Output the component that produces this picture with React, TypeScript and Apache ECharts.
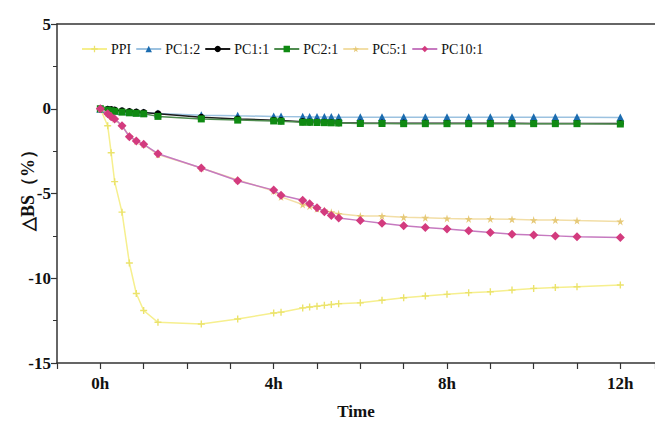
import React, { useEffect, useRef } from "react";
import * as echarts from "echarts";

const times = [0, 0.17, 0.25, 0.33, 0.5, 0.67, 0.83, 1, 1.33, 2.33, 3.17, 4, 4.17, 4.67, 4.83, 5, 5.17, 5.33, 5.5, 6, 6.5, 7, 7.5, 8, 8.5, 9, 9.5, 10, 10.5, 11, 12];
const seriesNames = ["PPI", "PC1:2", "PC1:1", "PC2:1", "PC5:1", "PC10:1"];
const ppi = [0, -1.0, -2.6, -4.3, -6.1, -9.1, -10.9, -11.9, -12.6, -12.7, -12.4, -12.05, -12.0, -11.75, -11.7, -11.65, -11.6, -11.55, -11.5, -11.45, -11.3, -11.15, -11.05, -10.95, -10.85, -10.8, -10.7, -10.6, -10.55, -10.5, -10.4];
const pc12 = [0, -0.05, -0.07, -0.1, -0.14, -0.17, -0.2, -0.22, -0.28, -0.38, -0.42, -0.45, -0.46, -0.47, -0.48, -0.48, -0.49, -0.49, -0.5, -0.5, -0.5, -0.5, -0.5, -0.5, -0.5, -0.5, -0.5, -0.5, -0.5, -0.5, -0.52];
const pc11 = [0, -0.03, -0.05, -0.08, -0.12, -0.16, -0.19, -0.22, -0.3, -0.5, -0.6, -0.68, -0.7, -0.76, -0.78, -0.79, -0.8, -0.81, -0.82, -0.84, -0.85, -0.85, -0.85, -0.86, -0.86, -0.86, -0.86, -0.87, -0.87, -0.87, -0.87];
const pc21 = [0, -0.08, -0.12, -0.15, -0.2, -0.24, -0.27, -0.3, -0.45, -0.6, -0.67, -0.72, -0.74, -0.8, -0.8, -0.81, -0.82, -0.83, -0.84, -0.87, -0.87, -0.88, -0.88, -0.88, -0.88, -0.88, -0.88, -0.88, -0.88, -0.88, -0.9];
const pc51 = [0, -0.28, -0.45, -0.6, -1.0, -1.6, -1.9, -2.1, -2.7, -3.5, -4.2, -4.85, -5.2, -5.65, -5.75, -5.9, -6.0, -6.1, -6.2, -6.33, -6.33, -6.4, -6.43, -6.47, -6.5, -6.5, -6.52, -6.57, -6.57, -6.6, -6.65];
const pc101 = [0, -0.3, -0.47, -0.6, -1.0, -1.65, -1.9, -2.1, -2.65, -3.5, -4.25, -4.8, -5.1, -5.4, -5.6, -5.84, -6.07, -6.3, -6.45, -6.6, -6.75, -6.9, -7.0, -7.1, -7.2, -7.3, -7.4, -7.45, -7.5, -7.55, -7.6];
const xTickLabels = ["0h", "4h", "8h", "12h"];
const yTickLabels = ["-15", "-10", "-5", "0", "5"];
const yAxisTitle = "△BS（%）";

const FONT = "'Liberation Serif', 'Times New Roman', serif";

export default function App() {
  const ref = useRef<HTMLDivElement>(null);
  useEffect(() => {
    document.body.style.margin = "0";
    if (!ref.current) return;
    const chart = echarts.init(ref.current, null, { renderer: "svg" });
    const allValues = [ppi, pc12, pc11, pc21, pc51, pc101];
    const styles = [
      { line: "#f6ef8e", mark: "#ebe36c", symbol: "path://M4,0h2v10h-2zM0,4h10v2h-10z", size: 7 },
      { line: "#9cc2e0", mark: "#1b6cb0", symbol: "triangle", size: 8 },
      { line: "#1a1a1a", mark: "#000000", symbol: "circle", size: 7 },
      { line: "#4f8c4f", mark: "#0f8a12", symbol: "rect", size: 7 },
      { line: "#f2dea6", mark: "#e6c978", symbol: "path://M50,0L61,35L98,35L68,57L79,91L50,70L21,91L32,57L2,35L39,35Z", size: 8 },
      { line: "#c67ac0", mark: "#d33b7e", symbol: "diamond", size: 9 },
    ];
    const series = seriesNames.map((name, i) => ({
      name,
      type: "line",
      data: times.map((t, j) => [t, allValues[i][j]]),
      symbol: styles[i].symbol,
      symbolSize: styles[i].size,
      showSymbol: true,
      lineStyle: { color: styles[i].line, width: 1.5 },
      itemStyle: { color: styles[i].mark },
      z: 2 + i,
    }));
    chart.setOption({
      animation: false,
      backgroundColor: "#ffffff",
      legend: {
        top: 37,
        left: 76,
        itemWidth: 25,
        itemHeight: 8,
        itemGap: 4,
        textStyle: { fontFamily: FONT, fontSize: 14, color: "#111", padding: [0, 0, 0, -1] },
        data: seriesNames,
      },
      graphic: [
        {
          type: "text",
          x: 28,
          y: 186,
          rotation: Math.PI / 2,
          style: {
            text: yAxisTitle,
            fontFamily: FONT,
            fontSize: 18,
            fontWeight: "bold",
            fill: "#111",
            align: "center",
            verticalAlign: "middle",
          },
        },
      ],
      grid: { left: 57, right: 0, top: 24, bottom: 65, containLabel: false, outerBoundsMode: "none" },
      xAxis: [
        {
          type: "value",
          min: -1,
          max: 12.8,
          interval: 1,
          name: "Time",
          nameLocation: "middle",
          nameGap: 40,
          nameTextStyle: { fontFamily: FONT, fontSize: 17, fontWeight: "bold", color: "#111" },
          axisLine: { show: true, onZero: false, lineStyle: { color: "#333", width: 1.5 } },
          axisTick: { show: true, length: 6, lineStyle: { color: "#333", width: 1.2 } },
          axisLabel: {
            margin: 12,
            fontFamily: FONT,
            fontSize: 17,
            fontWeight: "bold",
            color: "#111",
            formatter: (v: number) => {
              const idx = xTickLabels.indexOf(`${v}h`);
              return idx >= 0 ? xTickLabels[idx] : "";
            },
          },
          splitLine: { show: false },
        },
        {
          type: "value",
          position: "top",
          min: -1,
          max: 12.8,
          axisLine: { show: true, onZero: false, lineStyle: { color: "#333", width: 1.5 } },
          axisTick: { show: false },
          axisLabel: { show: false },
          splitLine: { show: false },
        },
      ],
      yAxis: {
        type: "value",
        min: -15,
        max: 5,
        interval: 5,
        axisLine: { show: true, onZero: false, lineStyle: { color: "#333", width: 1.5 } },
        axisTick: { show: true, length: 6, lineStyle: { color: "#333", width: 1.2 } },
        minorTick: { show: true, splitNumber: 2, length: 4, lineStyle: { color: "#333", width: 1 } },
        axisLabel: {
          margin: 6,
          fontFamily: FONT,
          fontSize: 17,
          fontWeight: "bold",
          color: "#111",
          formatter: (v: number) => {
            const idx = yTickLabels.indexOf(`${v}`);
            return idx >= 0 ? yTickLabels[idx] : "";
          },
        },
        splitLine: { show: false },
      },
      series,
    });
    return () => chart.dispose();
  }, []);
  return <div ref={ref} style={{ width: 655, height: 428 }} />;
}
